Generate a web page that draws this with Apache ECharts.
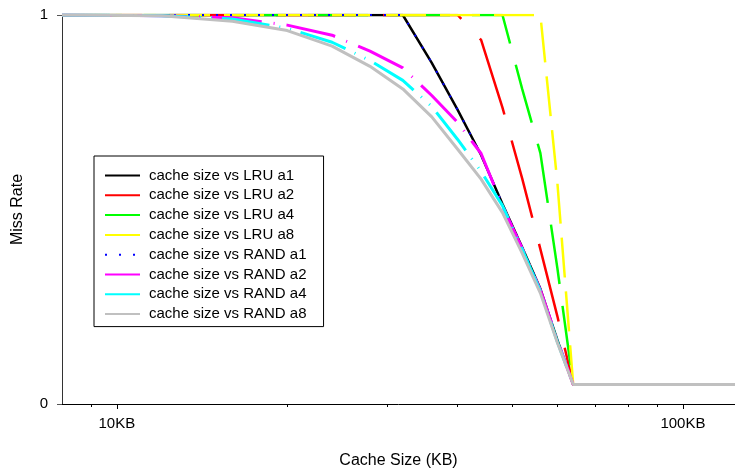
<!DOCTYPE html>
<html>
<head>
<meta charset="utf-8">
<script src="https://cdn.jsdelivr.net/npm/echarts@6/dist/echarts.min.js"></script>
<style>
  html, body { margin: 0; padding: 0; background: #fff; }
  #chart { width: 735px; height: 471px; }
</style>
</head>
<body>
<div id="chart"></div>
<script>
// cache size in KB
var cacheSize = [8, 12, 16, 20, 24, 28, 32, 36, 40, 44, 48, 52, 56, 60, 64,
  68, 72, 76, 80, 84, 88, 92, 96, 100, 104, 108, 112, 116, 120, 124, 128];

var lruA1 = [1, 1, 1, 1, 1, 1, 1, 0.877, 0.756, 0.64, 0.514, 0.403, 0.296, 0.165, 0.05,
  0.05, 0.05, 0.05, 0.05, 0.05, 0.05, 0.05, 0.05, 0.05, 0.05, 0.05, 0.05, 0.05, 0.05, 0.05, 0.05];
var lruA2 = [1, 1, 1, 1, 1, 1, 1, 1, 1, 0.936, 0.762, 0.58, 0.398, 0.226, 0.05,
  0.05, 0.05, 0.05, 0.05, 0.05, 0.05, 0.05, 0.05, 0.05, 0.05, 0.05, 0.05, 0.05, 0.05, 0.05, 0.05];
var lruA4 = [1, 1, 1, 1, 1, 1, 1, 1, 1, 1, 1, 0.81, 0.645, 0.35, 0.05,
  0.05, 0.05, 0.05, 0.05, 0.05, 0.05, 0.05, 0.05, 0.05, 0.05, 0.05, 0.05, 0.05, 0.05, 0.05, 0.05];
var lruA8 = [1, 1, 1, 1, 1, 1, 1, 1, 1, 1, 1, 1, 1, 0.57, 0.05,
  0.05, 0.05, 0.05, 0.05, 0.05, 0.05, 0.05, 0.05, 0.05, 0.05, 0.05, 0.05, 0.05, 0.05, 0.05, 0.05];
var randA1 = [1, 1, 1, 1, 1, 1, 1, 0.877, 0.756, 0.64, 0.514, 0.403, 0.296, 0.165, 0.05,
  0.05, 0.05, 0.05, 0.05, 0.05, 0.05, 0.05, 0.05, 0.05, 0.05, 0.05, 0.05, 0.05, 0.05, 0.05, 0.05];
var randA2 = [1, 0.998, 0.993, 0.974, 0.948, 0.907, 0.864, 0.793, 0.724, 0.644, 0.509, 0.4, 0.293, 0.165, 0.05,
  0.05, 0.05, 0.05, 0.05, 0.05, 0.05, 0.05, 0.05, 0.05, 0.05, 0.05, 0.05, 0.05, 0.05, 0.05, 0.05];
var randA4 = [1, 0.998, 0.99, 0.966, 0.93, 0.883, 0.832, 0.765, 0.68, 0.598, 0.51, 0.398, 0.29, 0.16, 0.05,
  0.05, 0.05, 0.05, 0.05, 0.05, 0.05, 0.05, 0.05, 0.05, 0.05, 0.05, 0.05, 0.05, 0.05, 0.05, 0.05];
var randA8 = [1, 0.998, 0.984, 0.96, 0.92, 0.868, 0.81, 0.738, 0.655, 0.578, 0.492, 0.388, 0.285, 0.158, 0.05,
  0.05, 0.05, 0.05, 0.05, 0.05, 0.05, 0.05, 0.05, 0.05, 0.05, 0.05, 0.05, 0.05, 0.05, 0.05, 0.05];

var majorTicks = [10, 100];
var minorTicks = [9, 20, 30, 40, 50, 60, 70, 80, 90];
var yTicks = [0, 1];

var font = "Liberation Sans, Arial, sans-serif";

function pairs(vals) {
  return cacheSize.map(function(x, i) {
    return [x, vals[i]];
  });
}

function mkSeries(name, vals, color, width, dash) {
  return {
    name: name,
    type: "line",
    data: pairs(vals),
    symbol: "none",
    showSymbol: false,
    silent: true,
    lineStyle: { color: color, width: width, type: dash },
    itemStyle: { color: color }
  };
}

var myChart = echarts.init(document.getElementById("chart"));
myChart.setOption({
  animation: false,
  grid: { left: 62, top: 15, right: 0, bottom: 67, outerBoundsMode: "none", containLabel: false },
  legend: {
    orient: "vertical",
    left: 94,
    top: 156,
    padding: [12, 17, 5, 10],
    borderColor: "#000",
    borderWidth: 1,
    itemWidth: 35,
    itemHeight: 14,
    itemGap: 4.8,
    itemStyle: { opacity: 0, color: "transparent", borderWidth: 0 },
    textStyle: { fontFamily: font, fontSize: 15, color: "#000", padding: [0, 0, 0, 4] }
  },
  xAxis: [
    {
      type: "log",
      min: 8,
      max: 123.6,
      name: "Cache Size (KB)",
      nameLocation: "middle",
      nameGap: 49,
      nameTextStyle: { fontFamily: font, fontSize: 16, color: "#000" },
      axisLine: { lineStyle: { color: "#000", width: 1 } },
      axisTick: { customValues: majorTicks, length: 5, lineStyle: { color: "#000" } },
      axisLabel: {
        customValues: majorTicks,
        margin: 12,
        fontFamily: font,
        fontSize: 15,
        color: "#000",
        formatter: function(v) {
          return Math.round(v) + "KB";
        }
      },
      splitLine: { show: false }
    },
    {
      type: "log",
      min: 8,
      max: 123.6,
      position: "bottom",
      axisLine: { show: false },
      axisTick: { customValues: minorTicks, length: 3, lineStyle: { color: "#000" } },
      axisLabel: { show: false },
      splitLine: { show: false }
    }
  ],
  yAxis: {
    type: "value",
    min: 0,
    max: 1,
    interval: 1,
    name: "Miss Rate",
    nameLocation: "middle",
    nameGap: 36,
    nameTextStyle: { fontFamily: font, fontSize: 16, color: "#000" },
    axisLine: { show: true, lineStyle: { color: "#333", width: 1 } },
    axisTick: { show: true, customValues: yTicks, length: 5, lineStyle: { color: "#555" } },
    axisLabel: { margin: 14, fontFamily: font, fontSize: 15, color: "#000" },
    splitLine: { show: false }
  },
  series: [
    mkSeries("cache size vs LRU a1", lruA1, "#000000", 2.5, "solid"),
    mkSeries("cache size vs LRU a2", lruA2, "#ff0000", 2.5, [80, 27]),
    mkSeries("cache size vs LRU a4", lruA4, "#00ff00", 2.5, [60, 22]),
    mkSeries("cache size vs LRU a8", lruA8, "#ffff00", 2.5, [40, 14]),
    mkSeries("cache size vs RAND a1", randA1, "#0000ff", 2, [2, 12]),
    mkSeries("cache size vs RAND a2", randA2, "#ff00ff", 3, [50, 12, 1, 12]),
    mkSeries("cache size vs RAND a4", randA4, "#00ffff", 3, [48, 10, 1, 10, 1, 10]),
    mkSeries("cache size vs RAND a8", randA8, "#c0c0c0", 3, "solid")
  ]
});
</script>
</body>
</html>
